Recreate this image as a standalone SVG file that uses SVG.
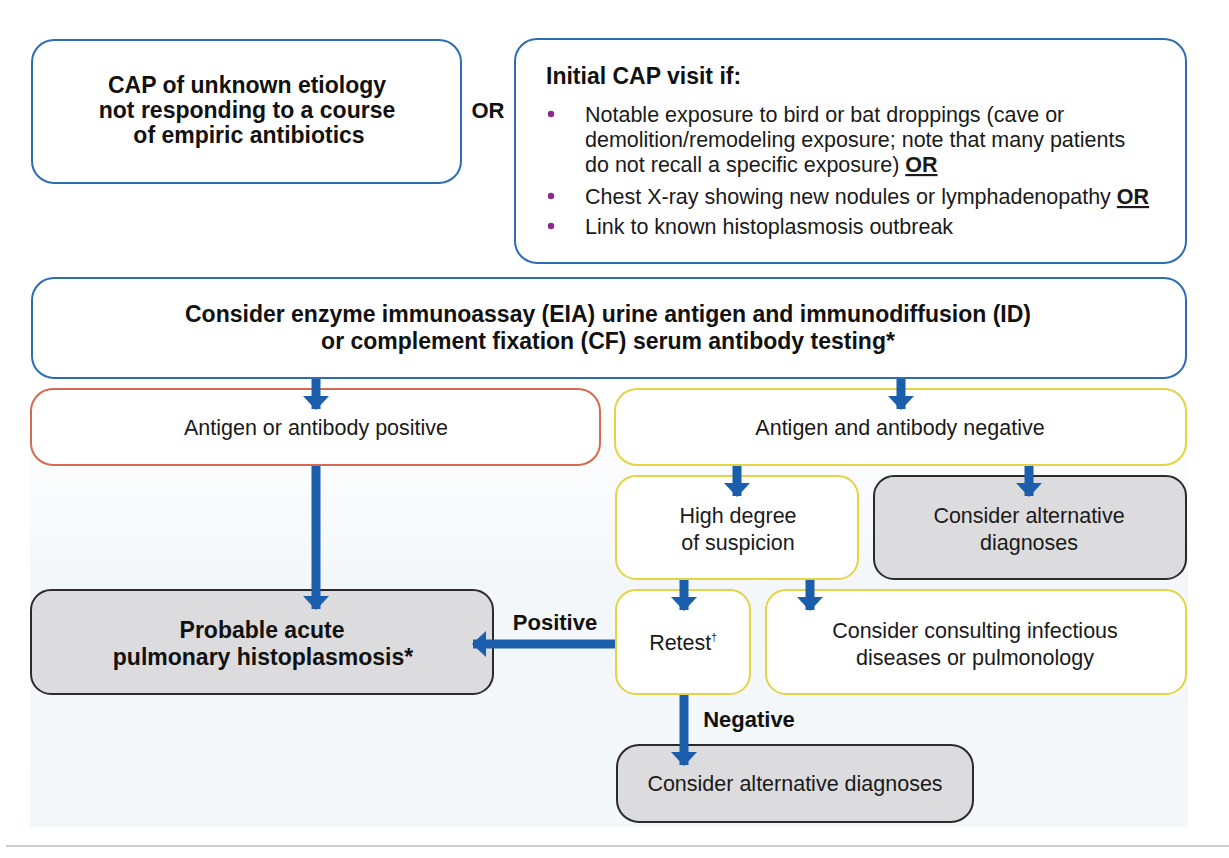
<svg xmlns="http://www.w3.org/2000/svg" width="1229" height="858" viewBox="0 0 1229 858">
<defs>
<linearGradient id="bg" x1="0" y1="0" x2="0" y2="1">
<stop offset="0" stop-color="#ffffff"/>
<stop offset="0.45" stop-color="#f4f7f9"/>
<stop offset="1" stop-color="#f4f8f9"/>
</linearGradient>
<marker id="ah" viewBox="0 0 14 26" refX="13" refY="13" markerWidth="14" markerHeight="26" markerUnits="userSpaceOnUse" orient="auto">
<path d="M0,0 L14,13 L0,26 Z" fill="#1b5eab"/>
</marker>
<style>
.t{font-family:"Liberation Sans",Arial,sans-serif;font-size:21.5px;fill:#1a1a1a}
.b{font-family:"Liberation Sans",Arial,sans-serif;font-size:23px;font-weight:bold;fill:#111}
.lb{font-family:"Liberation Sans",Arial,sans-serif;font-size:22px;font-weight:bold;fill:#111;text-anchor:middle}
.m{text-anchor:middle}
.blue{fill:#ffffff;stroke:#2e6db4;stroke-width:2}
.red{fill:#ffffff;stroke:#d7694f;stroke-width:2}
.yel{fill:#ffffff;stroke:#e3d443;stroke-width:2}
.gray{fill:#dcdcde;stroke:#2b2b2b;stroke-width:2}
.arr{stroke:#1b5eab;stroke-width:9;fill:none;marker-end:url(#ah)}
.dot{fill:#8a2a8c}
</style>
</defs>
<rect x="0" y="0" width="1229" height="858" fill="#ffffff"/>
<rect x="30" y="380" width="1158" height="447" fill="url(#bg)"/>
<line x1="6" y1="846" x2="1229" y2="846" stroke="#bbbbbb" stroke-width="1.5"/>

<g id="n1">
<rect class="blue" x="32" y="40" width="429" height="143" rx="22"/>
<text class="b m" x="247" y="93">CAP of unknown etiology</text>
<text class="b m" x="247" y="118">not responding to a course</text>
<text class="b m" x="249" y="143">of empiric antibiotics</text>
</g>

<g id="n2">
<rect class="blue" x="515" y="39" width="671" height="224" rx="22"/>
<text class="b" x="546" y="84" font-size="22">Initial CAP visit if:</text>
<circle class="dot" cx="551" cy="114" r="3.2"/>
<circle class="dot" cx="551" cy="196" r="3.2"/>
<circle class="dot" cx="551" cy="226" r="3.2"/>
<text class="t" x="585" y="122">Notable exposure to bird or bat droppings (cave or</text>
<text class="t" x="585" y="147">demolition/remodeling exposure; note that many patients</text>
<text class="t" x="585" y="172">do not recall a specific exposure) <tspan font-weight="bold" text-decoration="underline">OR</tspan></text>
<text class="t" x="585" y="204">Chest X-ray showing new nodules or lymphadenopathy <tspan font-weight="bold" text-decoration="underline">OR</tspan></text>
<text class="t" x="585" y="234">Link to known histoplasmosis outbreak</text>
</g>

<g id="n3">
<rect class="blue" x="32" y="278" width="1154" height="100" rx="22"/>
<text class="b m" x="608" y="322">Consider enzyme immunoassay (EIA) urine antigen and immunodiffusion (ID)</text>
<text class="b m" x="608" y="349">or complement fixation (CF) serum antibody testing*</text>
</g>

<g id="n4">
<rect class="red" x="31" y="389" width="569" height="76" rx="22"/>
<text class="t m" x="316" y="435">Antigen or antibody positive</text>
</g>

<g id="n5">
<rect class="yel" x="615" y="389" width="571" height="76" rx="22"/>
<text class="t m" x="900" y="435">Antigen and antibody negative</text>
</g>

<g id="n6">
<rect class="yel" x="616" y="476" width="242" height="103" rx="20"/>
<text class="t m" x="738" y="523">High degree</text>
<text class="t m" x="738" y="550">of suspicion</text>
</g>

<g id="n7">
<rect class="gray" x="874" y="476" width="312" height="103" rx="20"/>
<text class="t m" x="1029" y="523">Consider alternative</text>
<text class="t m" x="1029" y="550">diagnoses</text>
</g>

<g id="n8">
<rect class="gray" x="31" y="590" width="462" height="104" rx="20"/>
<text class="b m" x="262" y="638">Probable acute</text>
<text class="b m" x="263" y="665">pulmonary histoplasmosis*</text>
</g>

<g id="n9">
<rect class="yel" x="616" y="590" width="134" height="104" rx="20"/>
<text class="t m" x="683" y="650">Retest<tspan font-size="10" dy="-9">†</tspan></text>
</g>

<g id="n10">
<rect class="yel" x="766" y="590" width="420" height="104" rx="20"/>
<text class="t m" x="975" y="638">Consider consulting infectious</text>
<text class="t m" x="975" y="665">diseases or pulmonology</text>
</g>

<g id="n11">
<rect class="gray" x="617" y="745" width="356" height="77" rx="22"/>
<text class="t m" x="795" y="791">Consider alternative diagnoses</text>
</g>

<g id="connectors">
<line class="arr" x1="316" y1="379" x2="316" y2="409"/>
<line class="arr" x1="901" y1="379" x2="901" y2="409"/>
<line class="arr" x1="316" y1="466" x2="316" y2="609"/>
<line class="arr" x1="737" y1="466" x2="737" y2="496"/>
<line class="arr" x1="1029" y1="466" x2="1029" y2="496"/>
<line class="arr" x1="684" y1="580" x2="684" y2="610"/>
<line class="arr" x1="810" y1="580" x2="810" y2="610"/>
<line class="arr" x1="615" y1="644" x2="473" y2="644"/>
<line class="arr" x1="684" y1="695" x2="684" y2="765"/>
<text class="lb" x="488" y="118">OR</text>
<text class="lb" x="555" y="630">Positive</text>
<text class="lb" x="749" y="727">Negative</text>
</g>
</svg>
